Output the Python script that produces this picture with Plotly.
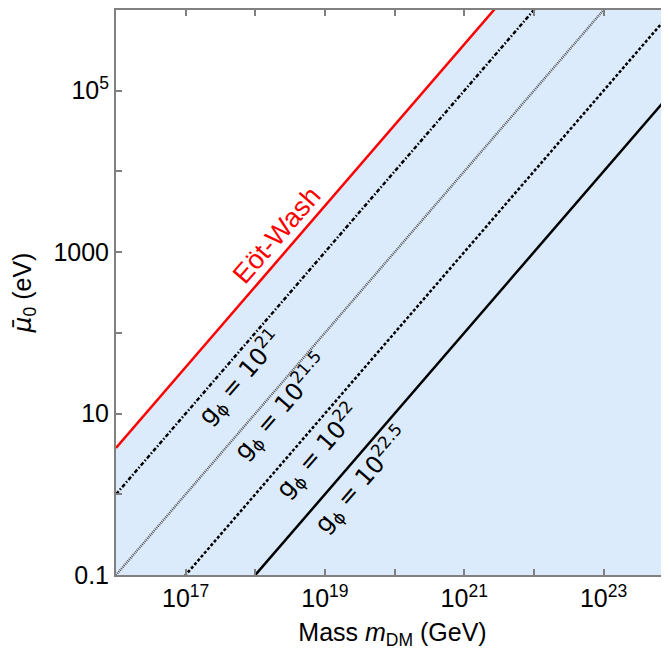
import plotly.graph_objects as go

# Data
mass_GeV = [1e16, 1e24]
mu_eotwash = [3.75, 3.75e8]
mu_g21 = [1.0, 1e8]
mu_g21_5 = [0.1, 1e7]
mu_g22 = [0.01, 1e6]
mu_g22_5 = [0.001, 1e5]
fill_floor = [0.01, 0.01]

x_tick_exp = [17, 18, 19, 20, 21, 22, 23]
x_tick_text = ["10<sup>17</sup>", "", "10<sup>19</sup>", "", "10<sup>21</sup>", "", "10<sup>23</sup>"]
y_tick_vals = [0.1, 1, 10, 100, 1000, 1e4, 1e5]
y_tick_text = ["0.1", "", "10", "", "1000", "", "10<sup>5</sup>"]

fig = go.Figure()

# shaded region below Eöt-Wash line
fig.add_trace(go.Scatter(
    x=mass_GeV + mass_GeV[::-1], y=mu_eotwash + fill_floor[::-1],
    fill="toself", fillcolor="#DCEBFC", line=dict(width=0), mode="lines",
    hoverinfo="skip", showlegend=False))

fig.add_trace(go.Scatter(x=mass_GeV, y=mu_g21, mode="lines",
                         line=dict(color="black", width=2.5, dash="4px,2px,1.5px,2px"), showlegend=False))
fig.add_trace(go.Scatter(x=mass_GeV, y=mu_g21_5, mode="lines",
                         line=dict(color="#555555", width=2.4, dash="1px,1px"), showlegend=False))
fig.add_trace(go.Scatter(x=mass_GeV, y=mu_g22, mode="lines",
                         line=dict(color="black", width=2.5, dash="3px,2px"), showlegend=False))
fig.add_trace(go.Scatter(x=mass_GeV, y=mu_g22_5, mode="lines",
                         line=dict(color="black", width=2.5), showlegend=False))
fig.add_trace(go.Scatter(x=mass_GeV, y=mu_eotwash, mode="lines",
                         line=dict(color="#ff0000", width=2.5), showlegend=False))

ANG = -49
label_font = dict(family="DejaVu Sans", size=24, color="black")
labels = [
    ("Eöt-Wash", 18.31, 3.21, dict(family="Liberation Sans", size=27, color="#ff0000")),
    ("g<sub>ϕ</sub> = 10<sup>21</sup>", 17.78, 1.45, label_font),
    ("g<sub>ϕ</sub> = 10<sup>21.5</sup>", 18.368, 1.09, label_font),
    ("g<sub>ϕ</sub> = 10<sup>22</sup>", 18.90, 0.54, label_font),
    ("g<sub>ϕ</sub> = 10<sup>22.5</sup>", 19.53, 0.18, label_font),
]
for txt, lx, ly, f in labels:
    fig.add_annotation(x=lx, y=ly, xref="x", yref="y", text=txt, showarrow=False,
                       textangle=ANG, font=f, xanchor="center", yanchor="middle")

axis_common = dict(showgrid=False, zeroline=False, showline=True, linecolor="#808080",
                   linewidth=2, ticks="inside", ticklen=6, tickwidth=1.5, tickcolor="#808080",
                   tickfont=dict(family="Liberation Sans", size=25, color="black"))

fig.update_xaxes(type="log", range=[16, 23.94],
                 tickvals=[10.0 ** e for e in x_tick_exp], ticktext=x_tick_text,
                 mirror="ticks",
                 title=dict(text="Mass <i>m</i><sub>DM</sub> (GeV)",
                            font=dict(family="Liberation Sans", size=25, color="black"), standoff=20),
                 **axis_common)
fig.update_yaxes(type="log", range=[-1, 6],
                 tickvals=y_tick_vals, ticktext=y_tick_text, mirror=False,
                 title=dict(text="<span style='font-family:DejaVu Sans'><i>μ̄</i></span><sub>0</sub> (eV)",
                            font=dict(family="Liberation Sans", size=25, color="black"), standoff=18),
                 **axis_common)

# page body adds an 8px margin, so the figure is sized/offset to compensate
fig.update_layout(width=661, height=642, margin=dict(l=108, r=0, t=1, b=73),
                  plot_bgcolor="white", paper_bgcolor="white")

fig.write_html("out.html")
